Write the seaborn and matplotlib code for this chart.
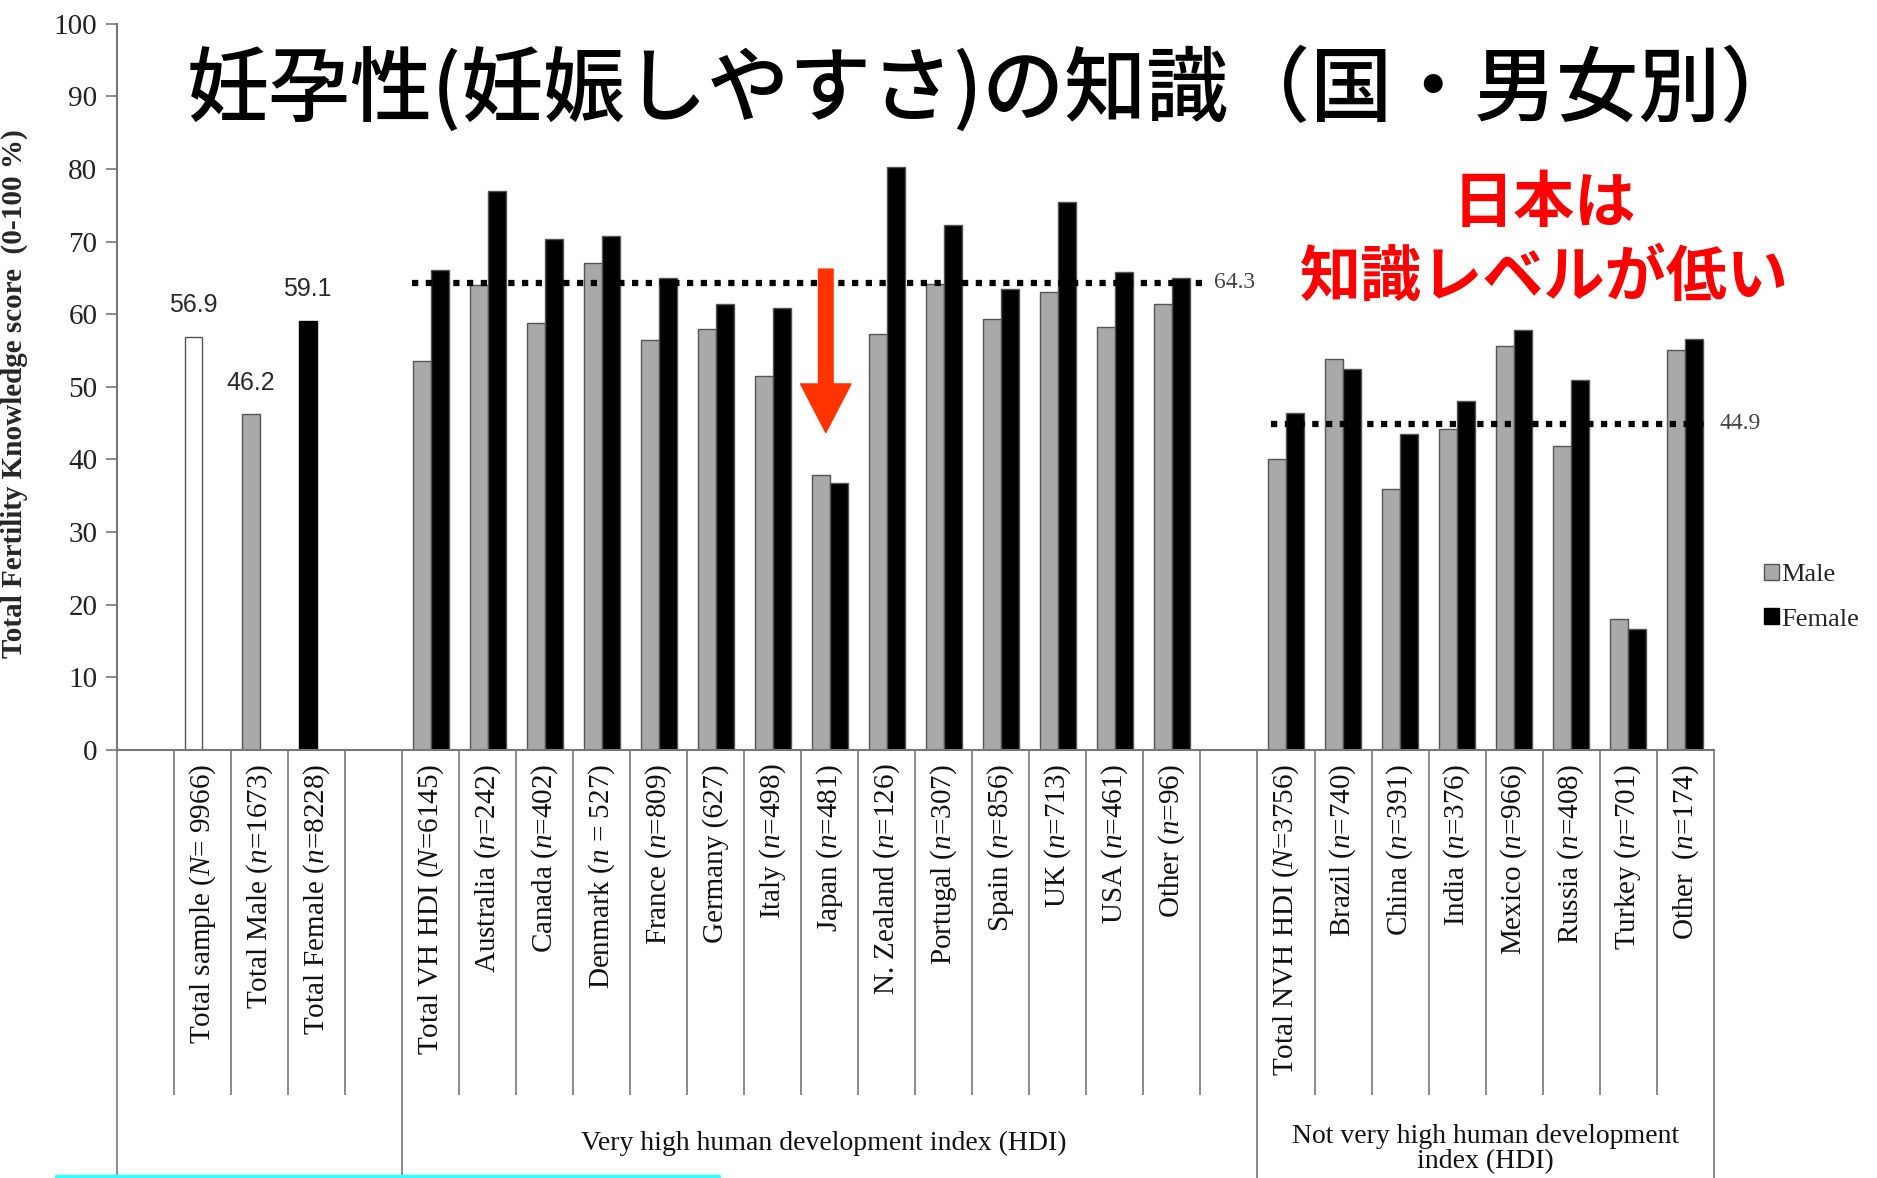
"""Fertility knowledge score by country and sex (slide recreation)."""
import matplotlib

matplotlib.use("Agg")
import matplotlib.pyplot as plt
import pandas as pd
import seaborn as sns
from matplotlib.lines import Line2D
from matplotlib.patches import Patch

# --- data ------------------------------------------------------------------
SINGLE_GROUPS = ["Total sample", "Total Male", "Total Female"]
SINGLE_SCORES = [56.9, 46.2, 59.1]

VH_GROUPS = ["Total VH", "Australia", "Canada", "Denmark", "France", "Germany",
             "Italy", "Japan", "N. Zealand", "Portugal", "Spain", "UK", "USA",
             "Other VH"]
VH_MALE = [53.5, 64.0, 58.8, 67.0, 56.5, 57.9, 51.5, 37.9, 57.2, 64.1, 59.4,
           63.0, 58.2, 61.4]
VH_FEMALE = [66.1, 77.0, 70.3, 70.7, 65.0, 61.4, 60.8, 36.8, 80.3, 72.3, 63.4,
             75.5, 65.8, 65.0]

NVH_GROUPS = ["Total NVH", "Brazil", "China", "India", "Mexico", "Russia",
              "Turkey", "Other NVH"]
NVH_MALE = [40.0, 53.8, 36.0, 44.2, 55.6, 41.8, 18.0, 55.1]
NVH_FEMALE = [46.4, 52.5, 43.5, 48.1, 57.8, 51.0, 16.6, 56.6]

VH_MEAN = 64.3
NVH_MEAN = 44.9

SLOTS = ["gap0"] + SINGLE_GROUPS + ["gap1"] + VH_GROUPS + ["gap2"] + NVH_GROUPS
TICK_LABELS = [
    "",
    "Total sample ($N$= 9966)",
    "Total Male ($n$=1673)",
    "Total Female ($n$=8228)",
    "",
    "Total VH HDI ($N$=6145)",
    "Australia ($n$=242)",
    "Canada ($n$=402)",
    "Denmark ($n$ = 527)",
    "France ($n$=809)",
    "Germany (627)",
    "Italy ($n$=498)",
    "Japan ($n$=481)",
    "N. Zealand ($n$=126)",
    "Portugal ($n$=307)",
    "Spain ($n$=856)",
    "UK ($n$=713)",
    "USA ($n$=461)",
    "Other ($n$=96)",
    "",
    "Total NVH HDI ($N$=3756)",
    "Brazil ($n$=740)",
    "China ($n$=391)",
    "India ($n$=376)",
    "Mexico ($n$=966)",
    "Russia ($n$=408)",
    "Turkey ($n$=701)",
    "Other  ($n$=174)",
]

TITLE = "妊孕性(妊娠しやすさ)の知識（国・男女別）"
NOTE_LINES = ["日本は", "知識レベルが低い"]

GREY = "#a9a9a9"
EDGE = "#555555"
LINE = "#777777"
SINGLE_FACE = {"Total sample": "white", "Total Male": GREY, "Total Female": "black"}


def build_frame():
    """Long table: the single totals sit on the left (Male) position of their slot."""
    rows = [(g, "Male", v) for g, v in zip(SINGLE_GROUPS, SINGLE_SCORES)]
    for groups, male, female in ((VH_GROUPS, VH_MALE, VH_FEMALE),
                                 (NVH_GROUPS, NVH_MALE, NVH_FEMALE)):
        rows += [(g, "Male", v) for g, v in zip(groups, male)]
        rows += [(g, "Female", v) for g, v in zip(groups, female)]
    return pd.DataFrame(rows, columns=["group", "series", "score"])


def main():
    sns.set_theme(style="white")
    plt.rcParams["font.family"] = ["Liberation Serif", "Noto Sans CJK JP"]
    plt.rcParams["mathtext.fontset"] = "custom"
    plt.rcParams["mathtext.rm"] = "Liberation Serif"
    plt.rcParams["mathtext.it"] = "Liberation Serif:italic"

    fig = plt.figure(figsize=(18.77, 11.78), dpi=100)
    ax = fig.add_axes([0.0623, 0.3633, 0.8507, 0.6167])

    df = build_frame()
    sns.barplot(data=df, x="group", y="score", hue="series", order=SLOTS,
                hue_order=["Male", "Female"],
                palette={"Male": GREY, "Female": "black"},
                width=0.63, edgecolor=EDGE, linewidth=1.0, errorbar=None,
                legend=False, ax=ax)

    # recolour the three single total bars and label them
    single_idx = {SLOTS.index(g): g for g in SINGLE_GROUPS}
    for patch in ax.patches:
        cx = patch.get_x() + patch.get_width() / 2
        slot = int(round(cx))
        if slot in single_idx:
            name = single_idx[slot]
            patch.set_facecolor(SINGLE_FACE[name])
            if name == "Total Female":
                patch.set_edgecolor("black")
            ax.annotate(f"{patch.get_height():.1f}", (cx, patch.get_height()),
                        xytext=(0, 14), textcoords="offset points",
                        ha="center", va="bottom", fontsize=18,
                        family="Liberation Sans", color="#2a2a2a")

    # dotted group means
    vh_lo, vh_hi = SLOTS.index(VH_GROUPS[0]) - 0.32, SLOTS.index(VH_GROUPS[-1]) + 0.64
    nvh_lo, nvh_hi = SLOTS.index(NVH_GROUPS[0]) - 0.26, SLOTS.index(NVH_GROUPS[-1]) + 0.46
    ax.hlines(VH_MEAN, vh_lo, vh_hi, colors="black", linestyles=(0, (1, 1.2)), lw=4.5)
    ax.hlines(NVH_MEAN, nvh_lo, nvh_hi, colors="black", linestyles=(0, (1, 1.2)), lw=4.5)
    ax.text(vh_hi + 0.1, VH_MEAN, f"{VH_MEAN}", ha="left", va="center",
            fontsize=17, color="#444444")
    ax.text(nvh_hi + 0.15, NVH_MEAN, f"{NVH_MEAN}", ha="left", va="center",
            fontsize=17, color="#444444")

    # red arrow pointing at Japan
    jp = SLOTS.index("Japan") - 0.07
    ax.annotate("", xy=(jp, 43.7), xytext=(jp, 66.2),
                arrowprops=dict(arrowstyle="simple,head_length=1.4,head_width=1.45,tail_width=0.42",
                                color="#ff3300", mutation_scale=25,
                                shrinkA=0, shrinkB=0))

    # axes styling
    ax.set_xlim(-0.5, len(SLOTS) - 0.5)
    ax.set_ylim(0, 100)
    ax.set_yticks(range(0, 101, 10))
    ax.tick_params(axis="y", labelsize=21, length=8, width=1.2, color=LINE,
                   left=True, pad=6, labelcolor="#222222")
    ax.set_xticks(range(len(SLOTS)))
    ax.set_xticklabels(TICK_LABELS, rotation=90, fontsize=21, color="#111111")
    ax.tick_params(axis="x", length=0, pad=10)
    ax.set_xlabel("")
    ax.set_ylabel("Total Fertility Knowledge score  (0-100 %)", fontsize=21,
                  fontweight="bold")
    ax.yaxis.set_label_coords(-0.056, 0.49)
    sns.despine(ax=ax)
    for side in ("left", "bottom"):
        ax.spines[side].set_color(LINE)
        ax.spines[side].set_linewidth(1.5)

    # table lines below the axis
    trans = ax.get_xaxis_transform()
    outer = [-0.5, 4.5, 19.5, 27.5]
    inner = [x + 0.5 for x in range(len(SLOTS) - 1) if x + 0.5 not in outer]
    ax.vlines(inner, -0.475, 0, transform=trans, clip_on=False, colors=LINE, lw=1.2)
    ax.vlines(outer, -0.66, 0, transform=trans, clip_on=False, colors=LINE, lw=1.2)
    ax.text(11.9, -0.541, "Very high human development index (HDI)",
            transform=trans, ha="center", va="center", fontsize=20, color="#111111")
    ax.text(23.5, -0.549, "Not very high human development\nindex (HDI)",
            transform=trans, ha="center", va="center", fontsize=20,
            linespacing=1.0, color="#111111")

    # legend
    handles = [Patch(facecolor=GREY, edgecolor=EDGE), Patch(facecolor="black", edgecolor="black")]
    fig.legend(handles, ["Male", "Female"], loc="center left",
               bbox_to_anchor=(0.933, 0.493), frameon=False, fontsize=19,
               handlelength=0.55, handleheight=0.55, handletextpad=0.1,
               labelspacing=0.85, borderpad=0)

    # slide title and red note
    fig.text(0.530, 0.924, TITLE, ha="center", va="center", fontsize=59,
             fontweight="medium", family=["Noto Sans CJK JP", "DejaVu Sans"],
             color="black")
    fig.text(0.8227, 0.827, NOTE_LINES[0], ha="center", va="center", fontsize=44,
             fontweight="bold", family=["Noto Sans CJK JP"], color="#ff0000")
    fig.text(0.8227, 0.764, NOTE_LINES[1], ha="center", va="center", fontsize=44,
             fontweight="bold", family=["Noto Sans CJK JP"], color="#ff0000")

    # cyan frame edge at the bottom of the slide
    fig.add_artist(Line2D([0.030, 0.383], [0.002, 0.002], transform=fig.transFigure,
                          color="#33ffff", lw=2.5))

    fig.savefig("out.png", dpi=100)
    plt.close(fig)


if __name__ == "__main__":
    main()
